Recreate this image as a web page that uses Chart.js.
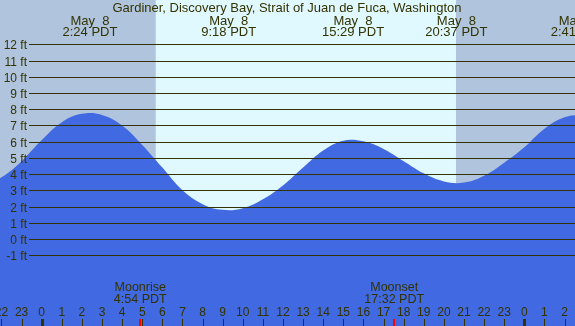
<!DOCTYPE html>
<html lang="en">
<head>
    <meta charset="UTF-8">
    <title>Gardiner, Discovery Bay tide chart</title>
    <script src="https://cdn.jsdelivr.net/npm/chart.js"></script>
    <style>
        body {
            margin: 0;
            padding: 0;
            background-color: #b0c4de;
            overflow: hidden;
        }
        canvas {
            display: block;
        }
    </style>
</head>
<body>
    <canvas id="tideChart" width="575" height="326"></canvas>

    <script>
        // hours since midnight May 8 (PDT) and tide height in feet
        var tideHours = [-3, -2, -1, 0, 1, 2, 3, 4, 5, 6, 7, 8, 9, 10, 11, 12, 13, 14,
                         15, 16, 17, 18, 19, 20, 21, 22, 23, 24, 25, 26, 27];
        var tideFeet = [3.2, 3.8, 4.8, 6.1, 7.2, 7.72, 7.65, 7.0, 5.8, 4.4, 3.0, 2.15, 1.8, 1.9, 2.45, 3.3, 4.4, 5.45,
                        6.05, 6.02, 5.55, 4.8, 4.05, 3.55, 3.48, 3.9, 4.7, 5.65, 6.8, 7.5, 7.68];

        // high / low tide labels at the top
        var extremeHours = [2.4, 9.3, 15.48, 20.62, 26.68];
        var extremeDates = ['May  8', 'May  8', 'May  8', 'May  8', 'May  8'];
        var extremeTimes = ['2:24 PDT', '9:18 PDT', '15:29 PDT', '20:37 PDT', '2:41 PDT'];

        // daylight period (sunrise, sunset)
        var sunHours = [5.67, 20.6];

        // moon events
        var moonHours = [4.9, 17.53];
        var moonNames = ['Moonrise', 'Moonset'];
        var moonTimes = ['4:54 PDT', '17:32 PDT'];

        var footLevels = [12, 11, 10, 9, 8, 7, 6, 5, 4, 3, 2, 1, 0, -1];
        var hourTicks = [];
        for (var h = -2; h <= 26; h++) hourTicks.push(h);

        var titleText = 'Gardiner, Discovery Bay, Strait of Juan de Fuca, Washington';

        var inkColor = '#333300';
        var nightColor = '#b0c4de';
        var dayColor = '#e0f8ff';
        var waterColor = '#4169e1';
        var fontFamily = '"Liberation Sans", Arial, sans-serif';

        var points = tideHours.map(function (hr, i) {
            return { x: hr, y: tideFeet[i] };
        });

        var backgroundPlugin = {
            id: 'dayNight',
            beforeDatasetsDraw: function (chart) {
                var ctx = chart.ctx;
                var xs = chart.scales.x;
                var area = chart.chartArea;
                var x1 = xs.getPixelForValue(sunHours[0]);
                var x2 = xs.getPixelForValue(sunHours[1]);
                ctx.save();
                ctx.fillStyle = nightColor;
                ctx.fillRect(area.left, area.top, area.right - area.left, area.bottom - area.top);
                ctx.fillStyle = dayColor;
                ctx.fillRect(x1, area.top, x2 - x1, area.bottom - area.top);
                ctx.restore();
            }
        };

        var overlayPlugin = {
            id: 'overlay',
            afterDatasetsDraw: function (chart) {
                var ctx = chart.ctx;
                var xs = chart.scales.x;
                var ys = chart.scales.y;
                var right = chart.chartArea.right;
                ctx.save();
                ctx.font = '12px ' + fontFamily;
                ctx.fillStyle = inkColor;
                ctx.strokeStyle = inkColor;
                ctx.lineWidth = 1;

                // horizontal foot lines and labels
                footLevels.forEach(function (ft) {
                    var y = Math.round(ys.getPixelForValue(ft)) + 0.5;
                    ctx.beginPath();
                    ctx.moveTo(29, y);
                    ctx.lineTo(right, y);
                    ctx.stroke();
                    ctx.textAlign = 'right';
                    ctx.fillText(ft + ' ft', 27, y + 4);
                });

                // title
                ctx.font = '13px ' + fontFamily;
                ctx.textAlign = 'center';
                ctx.fillText(titleText, 287, 11.5);

                // tide extremes
                extremeHours.forEach(function (hr, i) {
                    var x = xs.getPixelForValue(hr);
                    ctx.fillText(extremeDates[i], x, 24.5);
                    ctx.fillText(extremeTimes[i], x, 36);
                });

                // moon events
                ctx.font = '12.5px ' + fontFamily;
                moonHours.forEach(function (hr, i) {
                    var x = xs.getPixelForValue(hr);
                    ctx.fillStyle = inkColor;
                    ctx.fillText(moonNames[i], x, 291);
                    ctx.fillText(moonTimes[i], x, 303);
                });

                // hour axis
                ctx.font = '12px ' + fontFamily;
                hourTicks.forEach(function (hr) {
                    var x = xs.getPixelForValue(hr);
                    var label = ((hr % 24) + 24) % 24;
                    ctx.fillStyle = inkColor;
                    ctx.fillText(String(label), x, 315.5);
                    if (label === 0) {
                        ctx.fillRect(Math.round(x) - 1, 319, 3, 7);
                    } else {
                        ctx.fillRect(Math.round(x), 319, 1, 7);
                    }
                });

                // moon ticks
                moonHours.forEach(function (hr) {
                    var x = xs.getPixelForValue(hr);
                    ctx.fillStyle = '#ff0000';
                    ctx.fillRect(Math.round(x) - 1, 319, 2, 7);
                });
                ctx.restore();
            }
        };

        var ctx = document.getElementById('tideChart').getContext('2d');
        var tideChart = new Chart(ctx, {
            type: 'line',
            data: {
                datasets: [{
                    data: points,
                    fill: 'start',
                    backgroundColor: waterColor,
                    borderWidth: 0,
                    borderColor: waterColor,
                    pointRadius: 0,
                    tension: 0.4
                }]
            },
            options: {
                responsive: false,
                animation: false,
                layout: { padding: 0 },
                plugins: {
                    legend: { display: false },
                    tooltip: { enabled: false }
                },
                scales: {
                    x: { type: 'linear', min: -2.074, max: 26.52, display: false },
                    y: { min: -5.36, max: 14.73, display: false }
                }
            },
            plugins: [backgroundPlugin, overlayPlugin]
        });
    </script>
</body>
</html>
